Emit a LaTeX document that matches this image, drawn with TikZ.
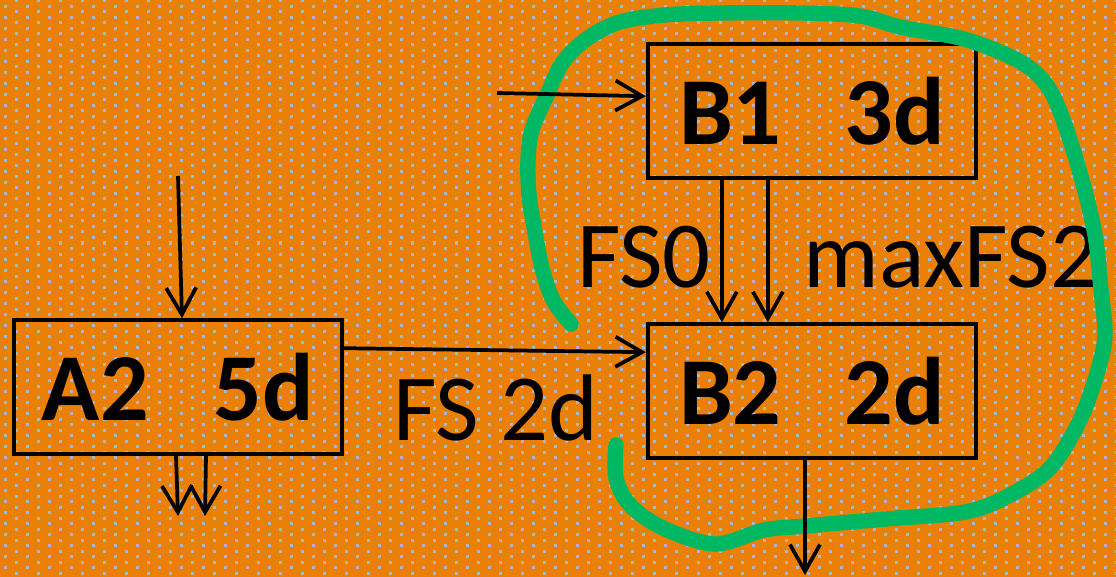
\documentclass[tikz,border=0pt]{standalone}
\usepackage{fontspec}
\setmainfont{Carlito}
\usetikzlibrary{arrows.meta,calc}
\definecolor{bgorange}{RGB}{235,128,6}
\definecolor{dotblue}{RGB}{168,184,204}
\definecolor{loopgreen}{RGB}{0,184,100}
\begin{document}
\begin{tikzpicture}[x=0.75pt,y=-0.75pt,
  box/.style={draw=black,line width=3.2pt,minimum width=246pt,minimum height=100pt,inner sep=0pt,font=\fontsize{72}{80}\selectfont\bfseries},
  lbl/.style={font=\fontsize{71}{80}\selectfont,anchor=base,inner sep=0pt},
  arr/.style={line width=2.8pt,-{Straight Barb[length=20pt,width=22.5pt]}},
  loopline/.style={draw=loopgreen,line width=11.5pt,line cap=round,line join=round}
  ]
\fill[bgorange] (0,0) rectangle (1116,577);
\useasboundingbox (0,0) rectangle (1116,577);
\foreach \k in {0,...,104} {
  \pgfmathsetmacro\yy{1+5.5*\k}
  \pgfmathsetmacro\xs{mod(\k,2)==0 ? 15 : 4}
  \draw[dotblue,line width=2.25pt,dash pattern=on 2.25pt off 14.25pt] (\xs,\yy) -- (1116,\yy);
}
% boxes
\node[box] (A2) at (178,387) {A2\hspace{0.68em}5d};
\node[box] (B1) at (812,111) {B1\hspace{0.66em}3d};
\node[box] (B2) at (812,391) {B2\hspace{0.66em}2d};
% labels
\node[lbl] (fs0) at (644,287) {FS0};
\node[lbl] (maxfs) at (951,287) {maxFS2};
\node[lbl] (fs2d) at (496,440) {FS 2d};
% green loop
\draw[loopline] plot[smooth,tension=0.55] coordinates {(571,324) (553,300) (542,268) (535,232) (529,195) (528,160) (532,130) (547,95) (563,62) (588,38) (620,22) (665,15) (720,13) (800,13) (860,16) (900,27) (960,38) (1000,52) (1030,68) (1050,90) (1065,125) (1082,180) (1095,235) (1101,290) (1105,335) (1098,370) (1080,420) (1050,468) (1008,496) (965,512) (886,519) (805,526) (764,530) (715,544) (663,528) (630,505) (616,478) (616,445)};
% free ends
\coordinate (a2in) at (178,176);
\coordinate (b1in) at (497,93);
\coordinate (a2o1) at (178,516);
\coordinate (a2o2) at (205,516);
\coordinate (b2o) at (805,575);
% connectors
\draw[arr] (a2in) -- ($(A2.north)+(4,0)$);
\draw[arr] ($(A2.south)+(-2,0)$) -- (a2o1);
\draw[arr] ($(A2.south)+(28,0)$) -- (a2o2);
\draw[arr] ($(A2.north east)+(0,30)$) -- ($(B2.north west)+(0,30)$);
\draw[arr] (b1in) -- ($(B1.north west)+(0,54)$);
\draw[arr] ($(B1.south west)+(76,0)$) -- ($(B2.north west)+(76,0)$);
\draw[arr] ($(B1.south west)+(122,0)$) -- ($(B2.north west)+(122,0)$);
\draw[arr] (B2.south -| b2o) -- (b2o);
\end{tikzpicture}
\end{document}
